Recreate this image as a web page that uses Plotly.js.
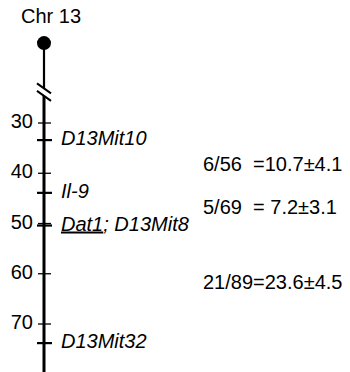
<!DOCTYPE html>
<html><head><meta charset="utf-8">
<script src="https://cdn.plot.ly/plotly-3.0.1.min.js"></script>
<style>html,body{margin:0;padding:0;background:#fff}</style>
</head><body><div id="chart" style="width:350px;height:372px"></div>
<script>
// ---- data ----
const chromosome = "Chr 13";
const centromereCM = 14.1;
const bottomCM = 80;
const breakCM = 23.3;
const axisTicks = [30, 40, 50, 60, 70];
const markerNames = ["D13Mit10", "Il-9", "<u>Dat1</u>; D13Mit8", "D13Mit32"];
const markerCM = [33.4, 43.9, 50.4, 73.8];
const intervalLabels = ["6/56  =10.7±4.1", "5/69  = 7.2±3.1", "21/89=23.6±4.5"];

// ---- layout constants ----
const W = 350, H = 372;
const yTop = 5.52, yBot = 79.55;
const pxPerCM = H / (yBot - yTop);
const lineX = 44;
const font = "Liberation Sans, Arial, Helvetica, sans-serif";
const FS = 20;

function segs(vals, x0, x1) {
  const xs = [], ys = [];
  vals.forEach(v => { xs.push(x0, x1, null); ys.push(v, v, null); });
  return {xs, ys};
}
const at = segs(axisTicks, 38, 51);
const mt = segs(markerCM, 37, 52);
const mids = markerCM.slice(0, -1).map((v, i) => (v + markerCM[i + 1]) / 2);

// break slashes, in px offsets from break position
const d = 1 / pxPerCM;
const s1 = {x: [37, 51], y: [breakCM - 6 * d, breakCM + 4 * d]};
const s2 = {x: [37, 51], y: [breakCM + 1.5 * d, breakCM + 11.5 * d]};
const band = {x: [36, 52], y: [breakCM - 2.25 * d, breakCM + 7.75 * d]};

const blk = "#000";
const traces = [
  {x: [lineX, lineX], y: [centromereCM, breakCM], mode: "lines", line: {color: blk, width: 2.2}},
  {x: [lineX, lineX], y: [breakCM, bottomCM], mode: "lines", line: {color: blk, width: 3}},
  {x: band.x, y: band.y, mode: "lines", line: {color: "#fff", width: 5.5}},
  {x: s1.x, y: s1.y, mode: "lines", line: {color: blk, width: 2}},
  {x: s2.x, y: s2.y, mode: "lines", line: {color: blk, width: 2}},
  {x: at.xs, y: at.ys, mode: "lines", line: {color: blk, width: 1.3}},
  {x: mt.xs, y: mt.ys, mode: "lines", line: {color: blk, width: 2.2}},
  {x: [lineX], y: [centromereCM], mode: "markers", marker: {color: blk, size: 14}},
  {x: axisTicks.map(() => 33), y: axisTicks, mode: "text", text: axisTicks.map(String),
   textposition: "middle left", textfont: {family: font, size: FS, color: blk}},
  {x: markerCM.map(() => 61), y: markerCM, mode: "text", text: markerNames,
   textposition: "middle right", textfont: {family: font, size: FS, color: blk, style: "italic"}},
  {x: mids.map(() => 203), y: mids, mode: "text", text: intervalLabels,
   textposition: "middle right", textfont: {family: font, size: FS, color: blk}},
  {x: [51], y: [centromereCM - 25 * d], mode: "text", text: [chromosome],
   textposition: "middle center", textfont: {family: font, size: FS, color: blk}}
];

const layout = {
  width: W, height: H,
  margin: {l: 0, r: 0, t: 0, b: 0},
  paper_bgcolor: "#fff", plot_bgcolor: "#fff",
  showlegend: false,
  xaxis: {range: [0, W], visible: false, fixedrange: true},
  yaxis: {range: [yBot, yTop], visible: false, fixedrange: true},
  hovermode: false
};
Plotly.newPlot("chart", traces, layout, {displayModeBar: false, staticPlot: true});
</script>
</body></html>
